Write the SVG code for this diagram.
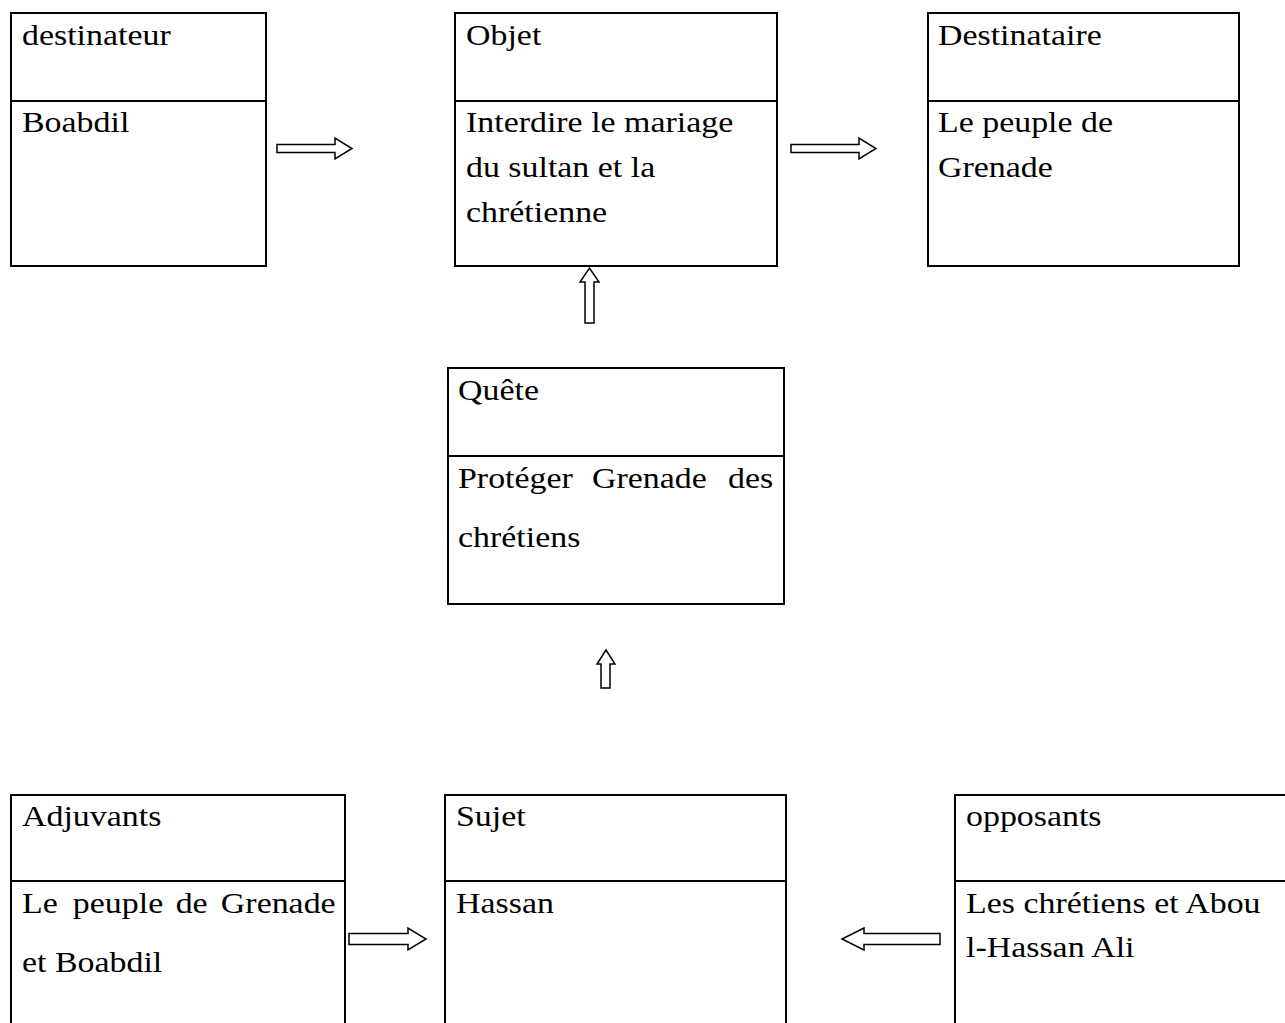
<svg xmlns="http://www.w3.org/2000/svg" width="1285" height="1023" viewBox="0 0 1285 1023">
  <style>
    .box { fill: #ffffff; stroke: #000000; stroke-width: 2; }
    .div { stroke: #000000; stroke-width: 2; }
    .t { font-family: "Liberation Serif", "Times New Roman", serif; font-size: 30px; fill: #000000; }
    .arrow { fill: #ffffff; stroke: #000000; stroke-width: 1.5; stroke-linejoin: miter; }
  </style>
  <rect x="0" y="0" width="1285" height="1023" fill="#ffffff"/>

  <!-- destinateur -->
  <g id="destinateur">
    <rect class="box" x="11" y="13" width="255" height="253"/>
    <line class="div" x1="11" y1="101" x2="266" y2="101"/>
    <text class="t" transform="translate(22,0) scale(1.13,1)"><tspan x="0" y="45">destinateur</tspan><tspan x="0" y="132">Boabdil</tspan></text>
  </g>

  <!-- Objet -->
  <g id="objet">
    <rect class="box" x="455" y="13" width="322" height="253"/>
    <line class="div" x1="455" y1="101" x2="777" y2="101"/>
    <text class="t" transform="translate(466,0) scale(1.13,1)"><tspan x="0" y="45">Objet</tspan><tspan x="0" y="132">Interdire le mariage</tspan><tspan x="0" y="177">du sultan et la</tspan><tspan x="0" y="222">chrétienne</tspan></text>
  </g>

  <!-- Destinataire -->
  <g id="destinataire">
    <rect class="box" x="928" y="13" width="311" height="253"/>
    <line class="div" x1="928" y1="101" x2="1239" y2="101"/>
    <text class="t" transform="translate(938,0) scale(1.13,1)"><tspan x="0" y="45">Destinataire</tspan><tspan x="0" y="132">Le peuple de</tspan><tspan x="0" y="177">Grenade</tspan></text>
  </g>

  <!-- Quête -->
  <g id="quete">
    <rect class="box" x="448" y="368" width="336" height="236"/>
    <line class="div" x1="448" y1="456" x2="784" y2="456"/>
    <text class="t" transform="translate(458,0) scale(1.13,1)"><tspan x="0" y="400">Quête</tspan><tspan x="0" y="488">Protéger</tspan><tspan x="118.6" y="488">Grenade</tspan><tspan x="239" y="488">des</tspan><tspan x="0" y="547">chrétiens</tspan></text>
  </g>

  <!-- Adjuvants -->
  <g id="adjuvants">
    <rect class="box" x="11" y="795" width="334" height="240"/>
    <line class="div" x1="11" y1="881" x2="345" y2="881"/>
    <text class="t" transform="translate(22,0) scale(1.13,1)"><tspan x="0" y="826">Adjuvants</tspan><tspan x="0" y="913">Le</tspan><tspan x="45" y="913">peuple</tspan><tspan x="136" y="913">de</tspan><tspan x="176" y="913">Grenade</tspan><tspan x="0" y="972">et Boabdil</tspan></text>
  </g>

  <!-- Sujet -->
  <g id="sujet">
    <rect class="box" x="445" y="795" width="341" height="240"/>
    <line class="div" x1="445" y1="881" x2="786" y2="881"/>
    <text class="t" transform="translate(456,0) scale(1.13,1)"><tspan x="0" y="826">Sujet</tspan><tspan x="0" y="913">Hassan</tspan></text>
  </g>

  <!-- opposants -->
  <g id="opposants">
    <rect class="box" x="955" y="795" width="345" height="240"/>
    <line class="div" x1="955" y1="881" x2="1300" y2="881"/>
    <text class="t" transform="translate(966,0) scale(1.13,1)"><tspan x="0" y="826">opposants</tspan><tspan x="0" y="913">Les chrétiens et Abou</tspan><tspan x="0" y="957">l-Hassan Ali</tspan></text>
  </g>

  <!-- hollow block arrows between the boxes -->
  <g id="connectors">
    <path class="arrow" d="M277,144.5 H335 V138 L352,148.5 L335,159 V152.5 H277 Z"/>
    <path class="arrow" d="M791,144.5 H859 V138 L876,148.5 L859,159 V152.5 H791 Z"/>
    <path class="arrow" d="M585,323 V282 H580 L589.5,268 L599,282 H594 V323 Z"/>
    <path class="arrow" d="M601,688 V664 H597 L606,650 L615,664 H610 V688 Z"/>
    <path class="arrow" d="M349,933.5 H408 V928 L426,939 L408,950 V944.5 H349 Z"/>
    <path class="arrow" d="M940,933.5 H864 V928 L842,939 L864,950 V944.5 H940 Z"/>
  </g>
</svg>
